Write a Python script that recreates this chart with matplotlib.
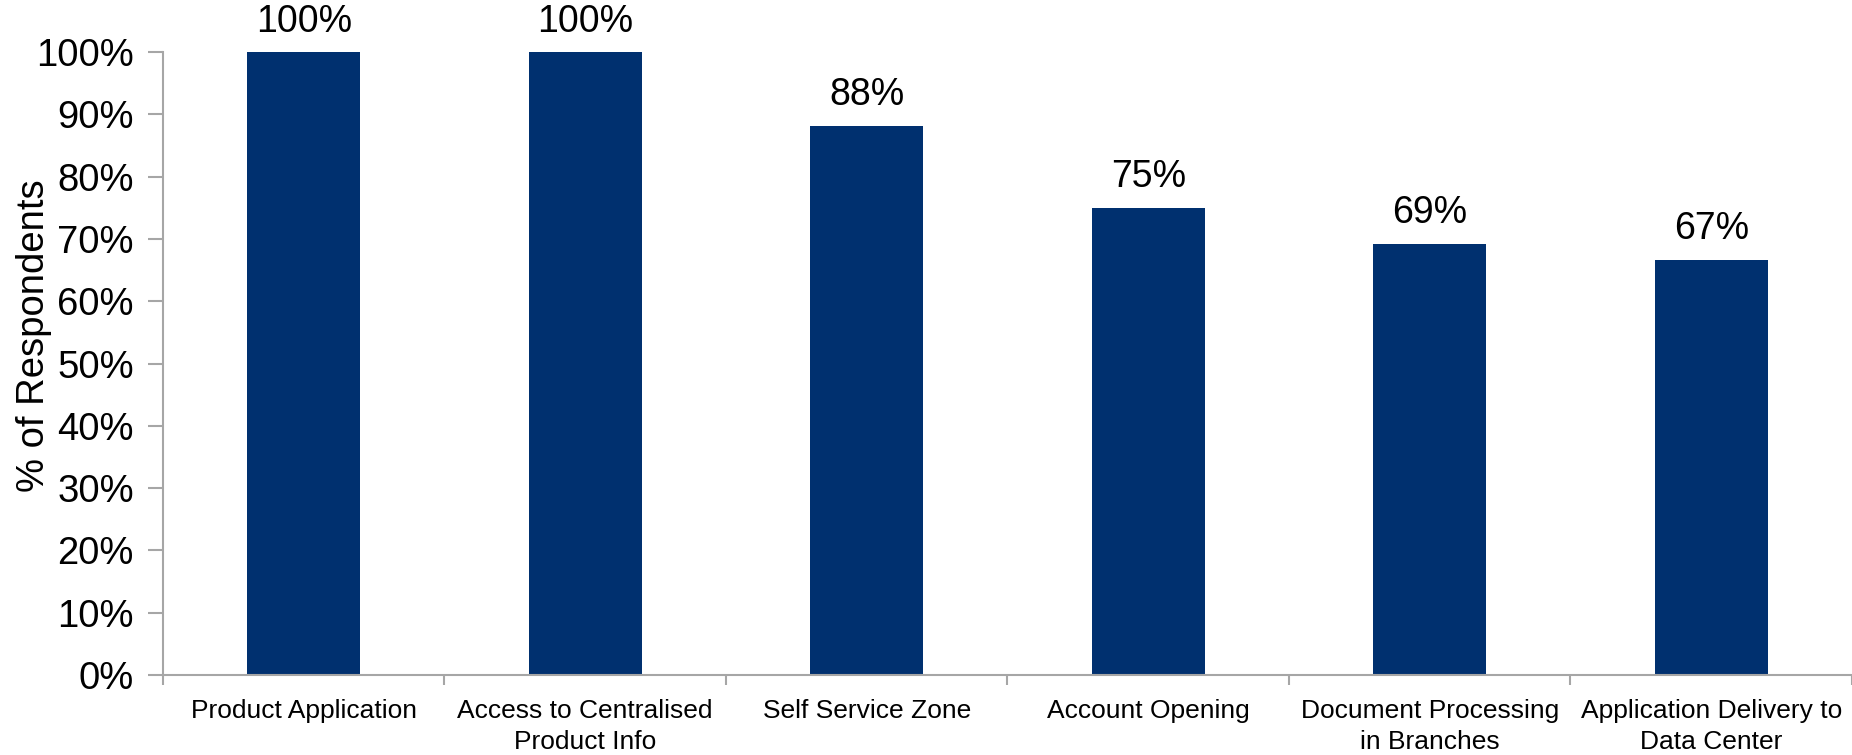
import matplotlib.pyplot as plt

plt.rcParams['font.family'] = ['Liberation Sans', 'DejaVu Sans']

# Data
categories = ['Product Application', 'Access to Centralised\nProduct Info', 'Self Service Zone',
              'Account Opening', 'Document Processing\nin Branches', 'Application Delivery to\nData Center']
values = [100, 100, 88.2, 75.0, 69.2, 66.7]
value_labels = ['100%', '100%', '88%', '75%', '69%', '67%']
y_ticks = [0, 10, 20, 30, 40, 50, 60, 70, 80, 90, 100]

bar_color = '#00306F'
axis_color = '#A6A6A6'

fig = plt.figure(figsize=(18.52, 7.55), dpi=100)
ax = fig.add_axes([0.088, 0.106, 0.912, 0.825])

x = list(range(len(categories)))
ax.bar(x, values, width=0.4, color=bar_color, zorder=2)

# Value labels above bars
for xi, v, lab in zip(x, values, value_labels):
    ax.annotate(lab, (xi, v), xytext=(0, 9), textcoords='offset points',
                ha='center', va='bottom', fontsize=27)

ax.set_xlim(-0.5, len(categories) - 0.5)
ax.set_ylim(0, 100)
ax.set_yticks(y_ticks)
ax.set_yticklabels([f'{t}%' for t in y_ticks], fontsize=27.5)

# Category labels centred, ticks at category boundaries
ax.set_xticks([i - 0.5 for i in range(len(categories) + 1)])
ax.set_xticklabels([])
ax.set_xticks(x, minor=True)
ax.set_xticklabels(categories, minor=True, fontsize=19, linespacing=1.4)
ax.tick_params(axis='x', which='minor', length=0, pad=17)
ax.tick_params(axis='x', which='major', length=7, width=1.5, color=axis_color, direction='out')
ax.tick_params(axis='y', length=11, width=1.5, color=axis_color, direction='out', pad=10)

for side in ['top', 'right']:
    ax.spines[side].set_visible(False)
for side in ['left', 'bottom']:
    ax.spines[side].set_color(axis_color)
    ax.spines[side].set_linewidth(1.5)

ax.set_ylabel('% of Respondents', fontsize=27.5)
ax.yaxis.set_label_coords(-0.066, 0.544)

fig.savefig('out.png', dpi=100)
